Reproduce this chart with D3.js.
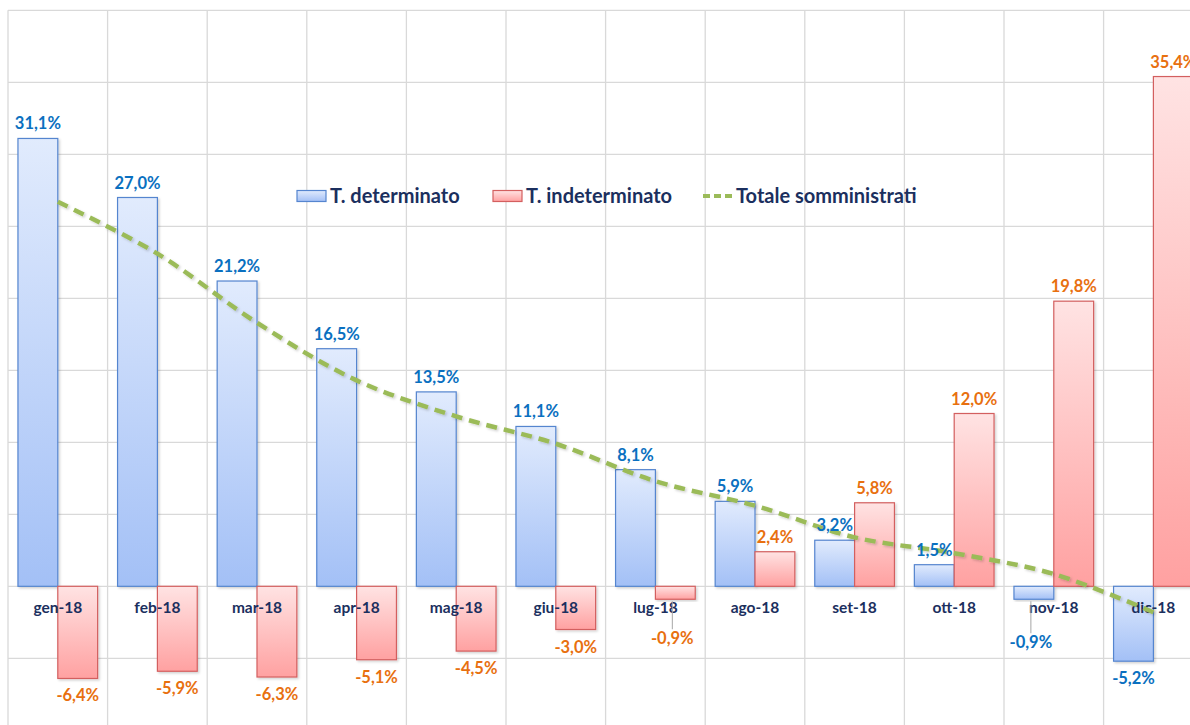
<!DOCTYPE html>
<html>
<head>
<meta charset="utf-8">
<script src="https://cdn.jsdelivr.net/npm/d3@7"></script>
<style>
  html, body { margin: 0; padding: 0; background: #fff; overflow: hidden; }
  svg { display: block; }
</style>
</head>
<body>
<svg id="chart" width="1190" height="725"></svg>
<script>
// ---- data ----
const categories = ["gen-18","feb-18","mar-18","apr-18","mag-18","giu-18","lug-18","ago-18","set-18","ott-18","nov-18","dic-18"];
const determinato = [31.1, 27.0, 21.2, 16.5, 13.5, 11.1, 8.1, 5.9, 3.2, 1.5, -0.9, -5.2];
const indeterminato = [-6.4, -5.9, -6.3, -5.1, -4.5, -3.0, -0.9, 2.4, 5.8, 12.0, 19.8, 35.4];
const totale = [26.7, 23.1, 18.3, 14.3, 11.8, 9.9, 7.3, 5.6, 3.4, 2.3, 0.85, -1.8];
const yTicks = [-10, -5, 0, 5, 10, 15, 20, 25, 30, 35, 40];
const seriesNames = ["T. determinato", "T. indeterminato", "Totale somministrati"];

const svg = d3.select("#chart");
const defs = svg.append("defs");

function grad(id, top, bottom) {
  const g = defs.append("linearGradient").attr("id", id)
    .attr("x1", 0).attr("y1", 0).attr("x2", 0).attr("y2", 1);
  g.append("stop").attr("offset", "0%").attr("stop-color", top);
  g.append("stop").attr("offset", "100%").attr("stop-color", bottom);
}
grad("gBlue", "#e1ebfd", "#a3c0f6");
grad("gRed", "#ffe3e3", "#ffa1a1");
const f = defs.append("filter").attr("id", "shadow").attr("x", "-10%").attr("y", "-10%").attr("width", "130%").attr("height", "130%");
f.append("feDropShadow").attr("dx", 1.5).attr("dy", 1.5).attr("stdDeviation", 1).attr("flood-color", "#000").attr("flood-opacity", 0.18);

const plotLeft = 8, step = 99.6;
const x0 = d3.scaleBand().domain(categories)
  .range([plotLeft, plotLeft + step * categories.length])
  .paddingInner(0.2).paddingOuter(0.1);
const x1 = d3.scaleBand().domain(["det", "ind"]).range([0, x0.bandwidth()]);
const y = d3.scaleLinear().domain([-10, 40]).range([730.3, 10.3]);

// gridlines
const grid = svg.append("g");
grid.selectAll("line.h").data(yTicks).join("line")
  .attr("x1", plotLeft).attr("x2", 1190)
  .attr("y1", d => y(d)).attr("y2", d => y(d))
  .attr("stroke", "#d9d9d9").attr("stroke-width", 1.3);
const bounds = d3.range(categories.length + 1).map(i => plotLeft + i * x0.step());
grid.selectAll("line.v").data(bounds).join("line")
  .attr("x1", d => d).attr("x2", d => d)
  .attr("y1", y(40)).attr("y2", 725)
  .attr("stroke", "#d9d9d9").attr("stroke-width", 1.3);

// bars
const rows = categories.map((c, i) => ({ c, i, det: determinato[i], ind: indeterminato[i] }));
const bars = svg.append("g");
function drawBars(key, fill, stroke) {
  bars.selectAll("rect." + key).data(rows).join("rect")
    .attr("class", key)
    .attr("x", d => x0(d.c) + x1(key))
    .attr("width", x1.bandwidth())
    .attr("y", d => y(Math.max(0, d[key])))
    .attr("height", d => Math.abs(y(d[key]) - y(0)))
    .attr("fill", fill).attr("stroke", stroke).attr("stroke-width", 1.2)
    .attr("filter", "url(#shadow)");
}
drawBars("det", "url(#gBlue)", "#5585cf");
drawBars("ind", "url(#gRed)", "#d35f5f");

// category labels
svg.append("g").selectAll("text").data(categories).join("text")
  .attr("x", d => x0(d) + x0.bandwidth() / 2)
  .attr("y", y(0) + 27)
  .attr("text-anchor", "middle")
  .attr("font-family", "Lato, 'Open Sans', sans-serif")
  .attr("font-weight", "bold").attr("font-size", 15.5)
  .attr("fill", "#1b2f5e")
  .text(d => d);

// total line
const line = d3.line()
  .x((d, i) => x0(categories[i]) + x0.bandwidth() / 2)
  .y(d => y(d))
  .curve(d3.curveCatmullRom.alpha(0.5));
svg.append("path").datum(totale)
  .attr("d", line)
  .attr("fill", "none").attr("stroke", "#9bbb59")
  .attr("stroke-width", 4.5).attr("stroke-dasharray", "11,7")
  .attr("filter", "url(#shadow)");

// value labels
const fmt = v => d3.format(".1f")(v).replace(".", ",").replace("−", "-") + "%";
const leaders = { "det-10": 26, "ind-6": 22 };
const lab = svg.append("g")
  .attr("font-family", "Lato, 'Open Sans', sans-serif")
  .attr("font-weight", "bold").attr("font-size", 16.5)
  .attr("text-anchor", "middle");
function drawLabels(key, color) {
  rows.forEach(d => {
    const v = d[key];
    const cx = x0(d.c) + x1(key) + x1.bandwidth() / 2;
    const extra = leaders[key + "-" + d.i] || 0;
    const by = v >= 0 ? y(v) - 9 : y(v) + 23 + extra;
    const lx = extra ? cx - 3 : cx;
    if (extra) {
      lab.append("line").attr("x1", lx).attr("x2", lx)
        .attr("y1", y(v) + 2).attr("y2", by - 15)
        .attr("stroke", "#a6a6a6").attr("stroke-width", 1);
    }
    lab.append("text").attr("x", lx).attr("y", by).attr("fill", color).text(fmt(v));
  });
}
drawLabels("det", "#0a70c0");
drawLabels("ind", "#e8700f");

// legend
const leg = svg.append("g")
  .attr("font-family", "Lato, 'Open Sans', sans-serif")
  .attr("font-weight", "bold").attr("font-size", 20).attr("fill", "#1b2f5e");
const legItems = [
  { name: seriesNames[0], x: 297, type: "rect", fill: "url(#gBlue)", stroke: "#5585cf" },
  { name: seriesNames[1], x: 493, type: "rect", fill: "url(#gRed)", stroke: "#d35f5f" },
  { name: seriesNames[2], x: 703, type: "line" }
];
legItems.forEach(it => {
  if (it.type === "rect") {
    leg.append("rect").attr("x", it.x).attr("y", 190.5).attr("width", 29).attr("height", 11)
      .attr("fill", it.fill).attr("stroke", it.stroke).attr("stroke-width", 1.2);
  } else {
    leg.append("line").attr("x1", it.x).attr("x2", it.x + 31).attr("y1", 196).attr("y2", 196)
      .attr("stroke", "#9bbb59").attr("stroke-width", 4).attr("stroke-dasharray", "7,4");
  }
  leg.append("text").attr("x", it.x + 33).attr("y", 203).text(it.name);
});
</script>
</body>
</html>
